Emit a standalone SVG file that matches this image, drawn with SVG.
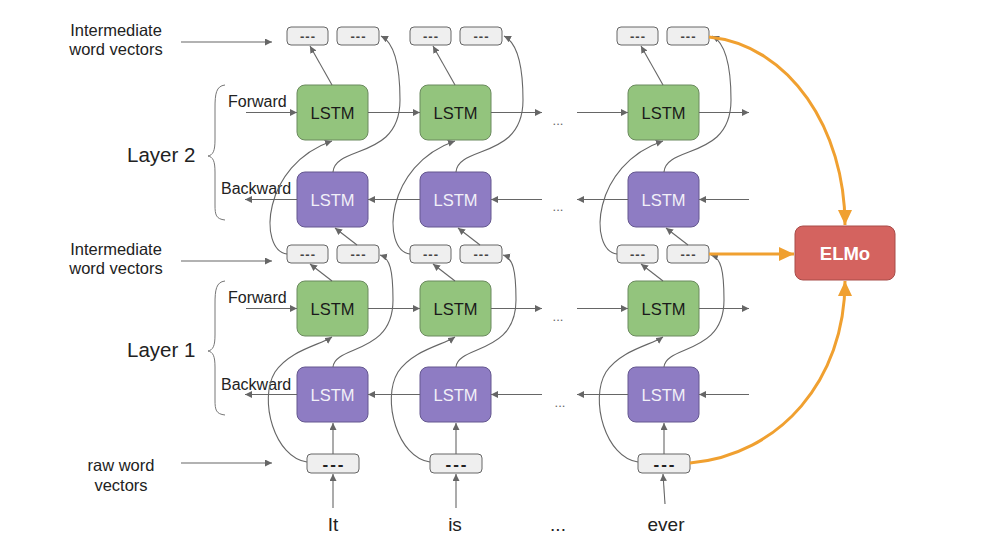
<svg xmlns="http://www.w3.org/2000/svg" width="1004" height="542" viewBox="0 0 1004 542">
<defs>
<marker id="ah" markerUnits="userSpaceOnUse" markerWidth="8" markerHeight="8" refX="7" refY="3.5" orient="auto"><path d="M0,0 L7,3.5 L0,7 z" fill="#666"/></marker>
<marker id="oh" markerUnits="userSpaceOnUse" markerWidth="16" markerHeight="14" refX="15" refY="7" orient="auto"><path d="M0,0 L15,7 L0,14 z" fill="#f0a030"/></marker>
<style>
text{font-family:"Liberation Sans",Arial,sans-serif}
.fw rect{fill:#93c47d;stroke:#6b8a5e;stroke-width:1}
.bw rect{fill:#8e7cc3;stroke:#64578f;stroke-width:1}
.lt{font-size:16.5px;text-anchor:middle}
.fw .lt{fill:#1a1a1a}
.bw .lt{fill:#f2f0f8}
.sb rect{fill:#efefef;stroke:#666;stroke-width:1}
.st{font-size:13px;font-weight:bold;text-anchor:middle;fill:#444;letter-spacing:1px}
.rt{font-size:17px;font-weight:bold;text-anchor:middle;fill:#222;letter-spacing:2px}
.c path{fill:none;stroke:#666;stroke-width:1.1;marker-end:url(#ah)}
.o path{fill:none;stroke:#f0a030;stroke-width:3;marker-end:url(#oh)}
.lab{font-size:16px;fill:#222}
.lab2{font-size:16.5px;fill:#222;text-anchor:middle}
.big{font-size:20.5px;fill:#222}
.word{font-size:19px;fill:#222;text-anchor:middle}
.dots{font-size:13px;fill:#666;text-anchor:middle}
.brace{fill:none;stroke:#777;stroke-width:1}
</style>
</defs>
<rect width="1004" height="542" fill="#fff"/>

<g id="labels">
<text class="lab2" x="116" y="36">Intermediate</text>
<text class="lab2" x="116" y="55">word vectors</text>
<text class="lab2" x="116" y="255">Intermediate</text>
<text class="lab2" x="116" y="274">word vectors</text>
<text class="lab2" x="121" y="471">raw word</text>
<text class="lab2" x="121" y="491">vectors</text>
<text class="big" x="127" y="162">Layer 2</text>
<text class="big" x="127" y="357">Layer 1</text>
<text class="lab" x="228" y="107">Forward</text>
<text class="lab" x="221" y="194">Backward</text>
<text class="lab" x="228" y="303">Forward</text>
<text class="lab" x="221" y="390">Backward</text>
<path class="brace" d="M225,85 C216,86 215,94 215,108 L215,140 C215,151 213,155 208,156 C213,157 215,161 215,172 L215,205 C215,215 216,219 225,220"/>
<path class="brace" d="M225,281 C216,282 215,290 215,304 L215,335 C215,346 213,350 208,351 C213,352 215,356 215,367 L215,400 C215,410 216,414 225,415"/>
<text class="word" x="333" y="531">It</text>
<text class="word" x="455" y="531">is</text>
<text class="word" x="558" y="531">...</text>
<text class="word" x="666" y="531">ever</text>
<text class="dots" x="558" y="125">...</text>
<text class="dots" x="558" y="211">...</text>
<text class="dots" x="558" y="321">...</text>
<text class="dots" x="560" y="407">...</text>
</g>

<!-- column 1 -->
<g id="c1-f2" class="fw"><rect x="297" y="85" width="71" height="55" rx="8"/><text class="lt" x="332.5" y="118.5">LSTM</text></g>
<g id="c1-b2" class="bw"><rect x="297" y="172" width="71" height="55" rx="8"/><text class="lt" x="332.5" y="205.5">LSTM</text></g>
<g id="c1-f1" class="fw"><rect x="297" y="281" width="71" height="55" rx="8"/><text class="lt" x="332.5" y="314.5">LSTM</text></g>
<g id="c1-b1" class="bw"><rect x="297" y="367" width="71" height="55" rx="8"/><text class="lt" x="332.5" y="400.5">LSTM</text></g>
<g id="c1-t1" class="sb"><rect x="287" y="27" width="41" height="18" rx="4"/><text class="st" x="308" y="40.5">---</text></g>
<g id="c1-t2" class="sb"><rect x="337" y="27" width="42" height="18" rx="4"/><text class="st" x="358.5" y="40.5">---</text></g>
<g id="c1-m1" class="sb"><rect x="287" y="245" width="41" height="18" rx="4"/><text class="st" x="308" y="258.5">---</text></g>
<g id="c1-m2" class="sb"><rect x="337" y="245" width="42" height="18" rx="4"/><text class="st" x="358.5" y="258.5">---</text></g>
<g id="c1-raw" class="sb"><rect x="307" y="454" width="52" height="19" rx="4"/><text class="rt" x="334" y="470">---</text></g>

<!-- column 2 -->
<g id="c2-f2" class="fw"><rect x="420" y="85" width="71" height="55" rx="8"/><text class="lt" x="455.5" y="118.5">LSTM</text></g>
<g id="c2-b2" class="bw"><rect x="420" y="172" width="71" height="55" rx="8"/><text class="lt" x="455.5" y="205.5">LSTM</text></g>
<g id="c2-f1" class="fw"><rect x="420" y="281" width="71" height="55" rx="8"/><text class="lt" x="455.5" y="314.5">LSTM</text></g>
<g id="c2-b1" class="bw"><rect x="420" y="367" width="71" height="55" rx="8"/><text class="lt" x="455.5" y="400.5">LSTM</text></g>
<g id="c2-t1" class="sb"><rect x="410" y="27" width="41" height="18" rx="4"/><text class="st" x="431" y="40.5">---</text></g>
<g id="c2-t2" class="sb"><rect x="460" y="27" width="42" height="18" rx="4"/><text class="st" x="481.5" y="40.5">---</text></g>
<g id="c2-m1" class="sb"><rect x="410" y="245" width="41" height="18" rx="4"/><text class="st" x="431" y="258.5">---</text></g>
<g id="c2-m2" class="sb"><rect x="460" y="245" width="42" height="18" rx="4"/><text class="st" x="481.5" y="258.5">---</text></g>
<g id="c2-raw" class="sb"><rect x="430" y="454" width="52" height="19" rx="4"/><text class="rt" x="457" y="470">---</text></g>

<!-- column 3 -->
<g id="c3-f2" class="fw"><rect x="628" y="85" width="71" height="55" rx="8"/><text class="lt" x="663.5" y="118.5">LSTM</text></g>
<g id="c3-b2" class="bw"><rect x="628" y="172" width="71" height="55" rx="8"/><text class="lt" x="663.5" y="205.5">LSTM</text></g>
<g id="c3-f1" class="fw"><rect x="628" y="281" width="71" height="55" rx="8"/><text class="lt" x="663.5" y="314.5">LSTM</text></g>
<g id="c3-b1" class="bw"><rect x="628" y="367" width="71" height="55" rx="8"/><text class="lt" x="663.5" y="400.5">LSTM</text></g>
<g id="c3-t1" class="sb"><rect x="617" y="27" width="41" height="18" rx="4"/><text class="st" x="638" y="40.5">---</text></g>
<g id="c3-t2" class="sb"><rect x="667" y="27" width="42" height="18" rx="4"/><text class="st" x="688.5" y="40.5">---</text></g>
<g id="c3-m1" class="sb"><rect x="617" y="245" width="41" height="18" rx="4"/><text class="st" x="638" y="258.5">---</text></g>
<g id="c3-m2" class="sb"><rect x="667" y="245" width="42" height="18" rx="4"/><text class="st" x="688.5" y="258.5">---</text></g>
<g id="c3-raw" class="sb"><rect x="638" y="454" width="52" height="19" rx="4"/><text class="rt" x="665" y="470">---</text></g>

<g id="elmo"><rect x="795" y="226" width="100" height="54" rx="8" fill="#d4635f" stroke="#a84c49" stroke-width="1"/><text x="845" y="260" font-size="18.5" font-weight="bold" fill="#fff" text-anchor="middle">ELMo</text></g>

<g id="connectors" class="c">
<path d="M181,42 L272,42"/>
<path d="M181,261 L272,261"/>
<path d="M181,463 L272,463"/>
<path d="M246,112.5 L297,112.5"/><path d="M368,112.5 L420,112.5"/><path d="M491,112.5 L542,112.5"/><path d="M577,112.5 L628,112.5"/><path d="M699,112.5 L749,112.5"/>
<path d="M297,199.5 L245,199.5"/><path d="M420,199.5 L368,199.5"/><path d="M542,199.5 L491,199.5"/><path d="M628,199.5 L577,199.5"/><path d="M749,199.5 L699,199.5"/>
<path d="M246,308.5 L297,308.5"/><path d="M368,308.5 L420,308.5"/><path d="M491,308.5 L542,308.5"/><path d="M577,308.5 L628,308.5"/><path d="M699,308.5 L749,308.5"/>
<path d="M297,394.5 L245,394.5"/><path d="M420,394.5 L368,394.5"/><path d="M542,394.5 L491,394.5"/><path d="M628,394.5 L577,394.5"/><path d="M749,394.5 L699,394.5"/>
<path d="M332,85 L310,46"/>
<path d="M333,172 C335,145 400,160 400,100 C400,62 393,42 381,36"/>
<path d="M287,254 C258,250 262,165 332,141"/>
<path d="M357,245 L335,228"/>
<path d="M332,281 L310,264"/>
<path d="M333,367 C335,345 393,355 393,300 C393,270 390,258 380,255"/>
<path d="M307,462 C275,458 258,400 275,372 C290,350 320,345 332,337"/>
<path d="M333,454 L333,423"/>
<path d="M333,508 L333,474"/>
<path d="M455,85 L433,46"/>
<path d="M456,172 C458,145 523,160 523,100 C523,62 516,42 504,36"/>
<path d="M410,254 C381,250 385,165 455,141"/>
<path d="M480,245 L458,228"/>
<path d="M455,281 L433,264"/>
<path d="M456,367 C458,345 516,355 516,300 C516,270 513,258 503,255"/>
<path d="M430,462 C398,458 381,400 398,372 C413,350 443,345 455,337"/>
<path d="M456,454 L456,423"/>
<path d="M456,508 L456,474"/>
<path d="M663,85 L641,46"/>
<path d="M664,172 C666,145 731,160 731,100 C731,62 724,42 712,36"/>
<path d="M617,254 C588,250 592,165 663,141"/>
<path d="M688,245 L666,228"/>
<path d="M663,281 L641,264"/>
<path d="M664,367 C666,345 724,355 724,300 C724,270 721,258 711,255"/>
<path d="M638,462 C606,458 589,400 606,372 C621,350 651,345 663,337"/>
<path d="M664,454 L664,423"/>
<path d="M665,504 L663,474"/>
</g>

<g id="elmo-connectors" class="o">
<path d="M709,37 C790,45 845,130 845,225"/>
<path d="M709,254 L794,254"/>
<path d="M690,463 C780,455 845,380 845,281"/>
</g>
</svg>
